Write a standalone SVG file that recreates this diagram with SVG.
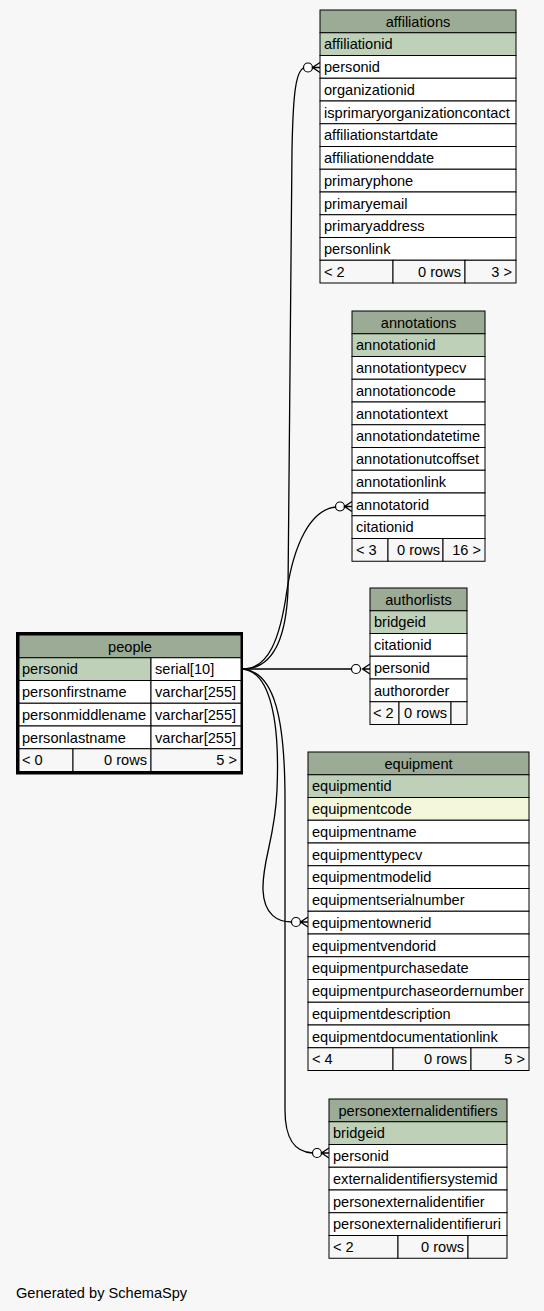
<svg xmlns="http://www.w3.org/2000/svg" width="544" height="1311" viewBox="0 0 544 1311">
<style>
rect.c{stroke:#000;stroke-width:1}
.h{fill:#9bab96}
.pk{fill:#bed1b8}
.ix{fill:#f4f7da}
.r{fill:#fff}
.f{fill:#f7f7f7}
text{font-family:"Liberation Sans",Arial,Helvetica,sans-serif;font-size:14.6px;fill:#000}
.m{text-anchor:middle}
.e{text-anchor:end}
.ln{fill:none;stroke:#000;stroke-width:1.3}
.cw{fill:none;stroke:#000;stroke-width:1.3}
.od{fill:#fff;stroke:#000;stroke-width:1.2}
</style>
<rect x="0" y="0" width="544" height="1311" fill="#f7f7f7"/>

<g id="connectors">
<path class="ln" d="M243,669 C272,669 286,640 288,590 L292,150 C293,100 295,72 303.5,68"/>
<circle class="od" cx="308" cy="67.5" r="4.5"/>
<path class="cw" d="M320,62.5 L312.5,67.5 L320,72.5 M312.5,67.5 L320,67.5"/>

<path class="ln" d="M243,669 C268,669 280,640 287,590 C294,545 310,510 335.5,507"/>
<circle class="od" cx="340" cy="506.5" r="4.5"/>
<path class="cw" d="M352,501.5 L344.5,506.5 L352,511.5 M344.5,506.5 L352,506.5"/>

<path class="ln" d="M243,669 L351.5,669"/>
<circle class="od" cx="356" cy="669" r="4.5"/>
<path class="cw" d="M370,664 L362.5,669 L370,674 M362.5,669 L370,669"/>

<path class="ln" d="M243,669 C270,672 280,720 277,790 C275,840 262,860 263,890 C264,915 278,922 291.5,922"/>
<circle class="od" cx="296" cy="922" r="4.5"/>
<path class="cw" d="M308,917 L300.5,922 L308,927 M300.5,922 L308,922"/>

<path class="ln" d="M243,669 C275,672 285,720 285,800 L285,1110 C285,1140 295,1152 312.5,1153"/>
<circle class="od" cx="317" cy="1153" r="4.5"/>
<path class="cw" d="M329,1148 L321.5,1153 L329,1158 M321.5,1153 L329,1153"/>
</g>

<g id="affiliations">
<rect class="c h" x="320" y="10" width="196" height="22.75"/>
<rect class="c pk" x="320" y="32.75" width="196" height="22.75"/>
<rect class="c r" x="320" y="55.5" width="196" height="22.75"/>
<rect class="c r" x="320" y="78.25" width="196" height="22.75"/>
<rect class="c r" x="320" y="101" width="196" height="22.75"/>
<rect class="c r" x="320" y="123.75" width="196" height="22.75"/>
<rect class="c r" x="320" y="146.5" width="196" height="22.75"/>
<rect class="c r" x="320" y="169.25" width="196" height="22.75"/>
<rect class="c r" x="320" y="192" width="196" height="22.75"/>
<rect class="c r" x="320" y="214.75" width="196" height="22.75"/>
<rect class="c r" x="320" y="237.5" width="196" height="22.75"/>
<rect class="c f" x="320" y="260.25" width="73" height="22.75"/>
<rect class="c f" x="393" y="260.25" width="72" height="22.75"/>
<rect class="c f" x="465" y="260.25" width="51" height="22.75"/>
<text class="m" x="418" y="26.5">affiliations</text>
<text x="324" y="49.25">affiliationid</text>
<text x="324" y="72">personid</text>
<text x="324" y="94.75">organizationid</text>
<text x="324" y="117.5">isprimaryorganizationcontact</text>
<text x="324" y="140.25">affiliationstartdate</text>
<text x="324" y="163">affiliationenddate</text>
<text x="324" y="185.75">primaryphone</text>
<text x="324" y="208.5">primaryemail</text>
<text x="324" y="231.25">primaryaddress</text>
<text x="324" y="254">personlink</text>
<text x="324" y="276.75">&lt; 2</text>
<text class="e" x="461" y="276.75">0 rows</text>
<text class="e" x="512" y="276.75">3 &gt;</text>
</g>

<g id="annotations">
<rect class="c h" x="352" y="311" width="133" height="22.75"/>
<rect class="c pk" x="352" y="333.75" width="133" height="22.75"/>
<rect class="c r" x="352" y="356.5" width="133" height="22.75"/>
<rect class="c r" x="352" y="379.25" width="133" height="22.75"/>
<rect class="c r" x="352" y="402" width="133" height="22.75"/>
<rect class="c r" x="352" y="424.75" width="133" height="22.75"/>
<rect class="c r" x="352" y="447.5" width="133" height="22.75"/>
<rect class="c r" x="352" y="470.25" width="133" height="22.75"/>
<rect class="c r" x="352" y="493" width="133" height="22.75"/>
<rect class="c r" x="352" y="515.75" width="133" height="22.75"/>
<rect class="c f" x="352" y="538.5" width="36" height="22.75"/>
<rect class="c f" x="388" y="538.5" width="55" height="22.75"/>
<rect class="c f" x="443" y="538.5" width="42" height="22.75"/>
<text class="m" x="418.5" y="327.5">annotations</text>
<text x="356" y="350.25">annotationid</text>
<text x="356" y="373">annotationtypecv</text>
<text x="356" y="395.75">annotationcode</text>
<text x="356" y="418.5">annotationtext</text>
<text x="356" y="441.25">annotationdatetime</text>
<text x="356" y="464">annotationutcoffset</text>
<text x="356" y="486.75">annotationlink</text>
<text x="356" y="509.5">annotatorid</text>
<text x="356" y="532.25">citationid</text>
<text x="356" y="555">&lt; 3</text>
<text class="e" x="440" y="555">0 rows</text>
<text class="e" x="481" y="555">16 &gt;</text>
</g>

<g id="authorlists">
<rect class="c h" x="370" y="588" width="97" height="22.75"/>
<rect class="c pk" x="370" y="610.75" width="97" height="22.75"/>
<rect class="c r" x="370" y="633.5" width="97" height="22.75"/>
<rect class="c r" x="370" y="656.25" width="97" height="22.75"/>
<rect class="c r" x="370" y="679" width="97" height="22.75"/>
<rect class="c f" x="370" y="701.75" width="29" height="22.75"/>
<rect class="c f" x="399" y="701.75" width="52" height="22.75"/>
<rect class="c f" x="451" y="701.75" width="16" height="22.75"/>
<text class="m" x="418.5" y="604.5">authorlists</text>
<text x="374" y="627.25">bridgeid</text>
<text x="374" y="650">citationid</text>
<text x="374" y="672.75">personid</text>
<text x="374" y="695.5">authororder</text>
<text x="373" y="718.25">&lt; 2</text>
<text class="e" x="447" y="718.25">0 rows</text>
</g>

<g id="people">
<rect x="17.5" y="633.5" width="224" height="139.5" fill="#fff" stroke="#000" stroke-width="3"/>
<rect class="c h" x="19" y="635" width="222" height="22.75"/>
<rect class="c pk" x="19" y="657.75" width="132" height="22.75"/>
<rect class="c r" x="151" y="657.75" width="90" height="22.75"/>
<rect class="c r" x="19" y="680.5" width="132" height="22.75"/>
<rect class="c r" x="151" y="680.5" width="90" height="22.75"/>
<rect class="c r" x="19" y="703.25" width="132" height="22.75"/>
<rect class="c r" x="151" y="703.25" width="90" height="22.75"/>
<rect class="c r" x="19" y="726" width="132" height="22.75"/>
<rect class="c r" x="151" y="726" width="90" height="22.75"/>
<rect class="c f" x="19" y="748.75" width="54" height="22.75"/>
<rect class="c f" x="73" y="748.75" width="78" height="22.75"/>
<rect class="c f" x="151" y="748.75" width="90" height="22.75"/>
<text class="m" x="130" y="651.5">people</text>
<text x="22" y="674.25">personid</text>
<text x="155" y="674.25">serial[10]</text>
<text x="22" y="697">personfirstname</text>
<text x="155" y="697">varchar[255]</text>
<text x="22" y="719.75">personmiddlename</text>
<text x="155" y="719.75">varchar[255]</text>
<text x="22" y="742.5">personlastname</text>
<text x="155" y="742.5">varchar[255]</text>
<text x="22" y="765.25">&lt; 0</text>
<text class="e" x="147" y="765.25">0 rows</text>
<text class="e" x="237" y="765.25">5 &gt;</text>
</g>

<g id="equipment">
<rect class="c h" x="308" y="752" width="221" height="22.75"/>
<rect class="c pk" x="308" y="774.75" width="221" height="22.75"/>
<rect class="c ix" x="308" y="797.5" width="221" height="22.75"/>
<rect class="c r" x="308" y="820.25" width="221" height="22.75"/>
<rect class="c r" x="308" y="843" width="221" height="22.75"/>
<rect class="c r" x="308" y="865.75" width="221" height="22.75"/>
<rect class="c r" x="308" y="888.5" width="221" height="22.75"/>
<rect class="c r" x="308" y="911.25" width="221" height="22.75"/>
<rect class="c r" x="308" y="934" width="221" height="22.75"/>
<rect class="c r" x="308" y="956.75" width="221" height="22.75"/>
<rect class="c r" x="308" y="979.5" width="221" height="22.75"/>
<rect class="c r" x="308" y="1002.25" width="221" height="22.75"/>
<rect class="c r" x="308" y="1025" width="221" height="22.75"/>
<rect class="c f" x="308" y="1047.75" width="85" height="22.75"/>
<rect class="c f" x="393" y="1047.75" width="78" height="22.75"/>
<rect class="c f" x="471" y="1047.75" width="58" height="22.75"/>
<text class="m" x="418.5" y="768.5">equipment</text>
<text x="312" y="791.25">equipmentid</text>
<text x="312" y="814">equipmentcode</text>
<text x="312" y="836.75">equipmentname</text>
<text x="312" y="859.5">equipmenttypecv</text>
<text x="312" y="882.25">equipmentmodelid</text>
<text x="312" y="905">equipmentserialnumber</text>
<text x="312" y="927.75">equipmentownerid</text>
<text x="312" y="950.5">equipmentvendorid</text>
<text x="312" y="973.25">equipmentpurchasedate</text>
<text x="312" y="996">equipmentpurchaseordernumber</text>
<text x="312" y="1018.75">equipmentdescription</text>
<text x="312" y="1041.5">equipmentdocumentationlink</text>
<text x="312" y="1064.25">&lt; 4</text>
<text class="e" x="467" y="1064.25">0 rows</text>
<text class="e" x="525" y="1064.25">5 &gt;</text>
</g>

<g id="personexternalidentifiers">
<rect class="c h" x="329" y="1099" width="178" height="22.75"/>
<rect class="c pk" x="329" y="1121.75" width="178" height="22.75"/>
<rect class="c r" x="329" y="1144.5" width="178" height="22.75"/>
<rect class="c r" x="329" y="1167.25" width="178" height="22.75"/>
<rect class="c r" x="329" y="1190" width="178" height="22.75"/>
<rect class="c r" x="329" y="1212.75" width="178" height="22.75"/>
<rect class="c f" x="329" y="1235.5" width="69" height="22.75"/>
<rect class="c f" x="398" y="1235.5" width="70" height="22.75"/>
<rect class="c f" x="468" y="1235.5" width="39" height="22.75"/>
<text class="m" x="418" y="1115.5">personexternalidentifiers</text>
<text x="333" y="1138.25">bridgeid</text>
<text x="333" y="1161">personid</text>
<text x="333" y="1183.75">externalidentifiersystemid</text>
<text x="333" y="1206.5">personexternalidentifier</text>
<text x="333" y="1229.25">personexternalidentifieruri</text>
<text x="333" y="1252">&lt; 2</text>
<text class="e" x="464" y="1252">0 rows</text>
</g>

<text x="16" y="1298" style="font-size:14.6px">Generated by SchemaSpy</text>
</svg>
